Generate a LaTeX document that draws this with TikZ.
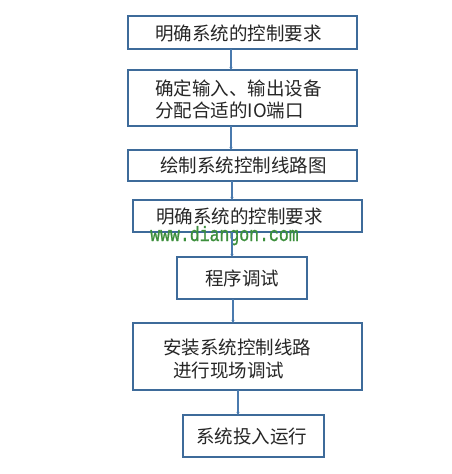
\documentclass[tikz,border=0pt]{standalone}
\usepackage{fontspec}
\newfontfamily\cjk{Noto Sans CJK SC}
\newfontfamily\wmfont[FakeBold=1.2]{Liberation Mono}
\usetikzlibrary{arrows.meta}
\definecolor{boxblue}{HTML}{3E6B9A}
\definecolor{linkblue}{HTML}{4A7AAE}
\definecolor{wmgreen}{HTML}{3C8F3C}
\tikzset{
  x=1pt, y=-1pt,
  stepbox/.style={draw=boxblue, line width=2pt, fill=white},
  boxtext/.style={font=\cjk\fontsize{18.5}{22}\selectfont, text=black!85, inner sep=0pt, anchor=west},
  link/.style={draw=linkblue, line width=2pt, -{Stealth[length=3pt,width=3pt]}},
}
\begin{document}
\begin{tikzpicture}
\useasboundingbox (0,0) rectangle (451,474);
% boxes
\node[stepbox, minimum width=229pt, minimum height=33pt, inner sep=0pt] (b1) at (242.5,32.5) {};
\node[stepbox, minimum width=229pt, minimum height=56pt, inner sep=0pt] (b2) at (242.5,98) {};
\node[stepbox, minimum width=229pt, minimum height=31pt, inner sep=0pt] (b3) at (242.5,165.5) {};
\node[stepbox, minimum width=229pt, minimum height=32pt, inner sep=0pt] (b4) at (247.5,216) {};
\node[stepbox, minimum width=130pt, minimum height=42pt, inner sep=0pt] (b5) at (242,278) {};
\node[stepbox, minimum width=229pt, minimum height=67pt, inner sep=0pt] (b6) at (247.5,356.5) {};
\node[stepbox, minimum width=141pt, minimum height=42pt, inner sep=0pt] (b7) at (253.5,436) {};
% watermark
\node[font=\wmfont\fontsize{16.5}{18}\selectfont, text=wmgreen, inner sep=0pt, anchor=base west, yscale=1.25] (wm) at (150,241) {www.diangon.com};
% connector coordinates
\coordinate (c1a) at (231,49); \coordinate (c1b) at (231,70);
\coordinate (c2a) at (231,126); \coordinate (c2b) at (231,150);
\coordinate (c3a) at (232,181); \coordinate (c3b) at (232,200);
\coordinate (c4a) at (232,232); \coordinate (c4b) at (232,257);
\coordinate (c5a) at (233,299); \coordinate (c5b) at (233,323);
\coordinate (c6a) at (238,390); \coordinate (c6b) at (238,415);
\draw[link] (c1a) -- (c1b);
\draw[link] (c2a) -- (c2b);
\draw[link] (c3a) -- (c3b);
\draw[link] (c4a) -- (c4b);
\draw[link] (c5a) -- (c5b);
\draw[link] (c6a) -- (c6b);
% texts
\node[boxtext] (t1) at (155,33) {明确系统的控制要求};
\node[boxtext] (t2a) at (155,88) {确定输入、输出设备};
\node[boxtext] (t2b) at (155,110) {分配合适的IO端口};
\node[boxtext] (t3) at (160,165) {绘制系统控制线路图};
\node[boxtext] (t4) at (156,216) {明确系统的控制要求};
\node[boxtext] (t5) at (205,278) {程序调试};
\node[boxtext] (t6a) at (163,347) {安装系统控制线路};
\node[boxtext] (t6b) at (173,370) {进行现场调试};
\node[boxtext] (t7) at (196,436) {系统投入运行};
\end{tikzpicture}
\end{document}
